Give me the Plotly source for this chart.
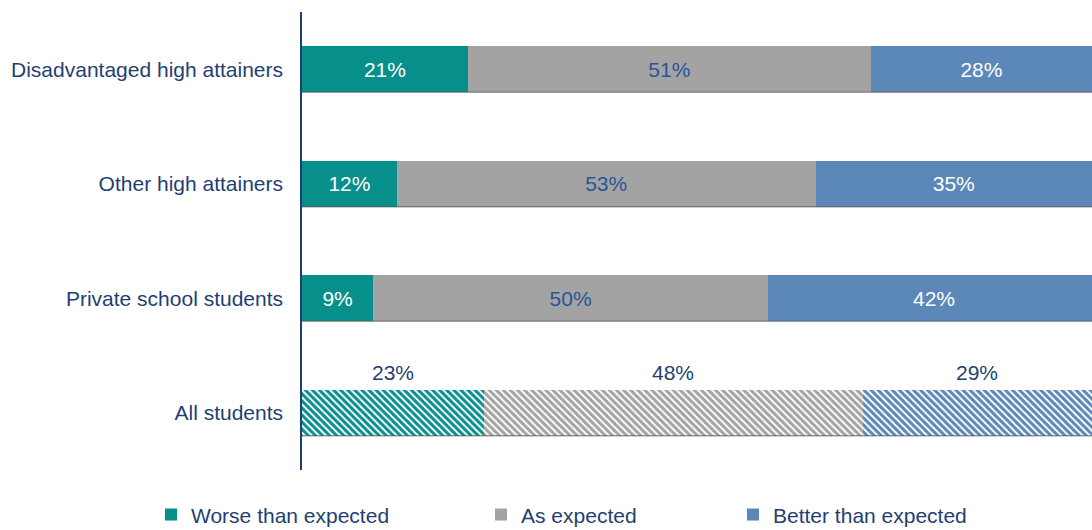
import plotly.graph_objects as go

categories = ["Disadvantaged high attainers", "Other high attainers", "Private school students"]
all_label = "All students"
series_names = ["Worse than expected", "As expected", "Better than expected"]
worse = [21, 12, 9]
as_expected = [51, 53, 50]
better = [28, 35, 42]
all_students = [23, 48, 29]

colors = ["#078F8C", "#A3A3A3", "#5B87B9"]
inside_text_colors = ["#FFFFFF", "#2A5597", "#FFFFFF"]
navy = "#1F3F73"
FONT = "Liberation Sans, Arial, sans-serif"
BAR_HALF = 0.2

fig = go.Figure()
solid_values = [worse, as_expected, better]
legends = ["legend", "legend2", "legend3"]
for name, vals, col, tcol, lg in zip(series_names, solid_values, colors, inside_text_colors, legends):
    fig.add_trace(go.Bar(
        y=categories, x=vals, orientation="h", name=name,
        marker=dict(color=col, line=dict(width=0)),
        text=[f"{v}%" for v in vals], textposition="inside",
        insidetextanchor="middle", constraintext="none",
        textfont=dict(color=tcol, size=21, family=FONT),
        legend=lg, hoverinfo="skip",
    ))

for name, val, col in zip(series_names, all_students, colors):
    fig.add_trace(go.Bar(
        y=[all_label], x=[val], orientation="h", name=name,
        marker=dict(color="white", line=dict(width=0),
                    pattern=dict(shape="\\", fgcolor=col, bgcolor="white", fgopacity=1,
                                 size=5, solidity=0.6)),
        showlegend=False, hoverinfo="skip",
    ))

# labels above the All students bar
cum = 0
for val in all_students:
    fig.add_annotation(x=cum + val / 2, y=all_label, yshift=40, text=f"{val}%",
                       showarrow=False, font=dict(color=navy, size=21, family=FONT))
    cum += val

# thin shadow under each bar
order = categories + [all_label]
totals = [w + a + b for w, a, b in zip(worse, as_expected, better)] + [sum(all_students)]
for i, tot in enumerate(totals):
    fig.add_shape(type="line", xref="x", yref="y", x0=0, x1=min(tot, 100),
                  y0=i + BAR_HALF, y1=i + BAR_HALF, line=dict(color="rgba(90,90,90,0.6)", width=1.5))

leg_common = dict(orientation="h", xanchor="left", y=-0.098, yanchor="middle",
                  itemwidth=30, font=dict(size=21, color=navy, family=FONT),
                  bgcolor="rgba(0,0,0,0)")
fig.update_layout(
    barmode="stack", bargap=1 - 2 * BAR_HALF,
    width=1092, height=530,
    margin=dict(l=302, r=0, t=12, b=60, autoexpand=False),
    paper_bgcolor="white", plot_bgcolor="white",
    font=dict(family=FONT, size=21, color=navy),
    xaxis=dict(range=[0, 100], visible=False, showgrid=False, zeroline=False),
    yaxis=dict(categoryorder="array", categoryarray=order, range=[3.5, -0.5],
               showline=True, linecolor=navy, linewidth=1.5, showgrid=False, automargin=False,
               ticks="", ticklabelstandoff=13, tickfont=dict(size=21, color=navy, family=FONT)),
    legend=dict(x=(151 - 302) / 790, **leg_common),
    legend2=dict(x=(481 - 302) / 790, **leg_common),
    legend3=dict(x=(733 - 302) / 790, **leg_common),
)

fig.write_html("out.html", config={"displayModeBar": False},
               post_script="document.body.style.margin='0';document.body.style.overflow='hidden';")
